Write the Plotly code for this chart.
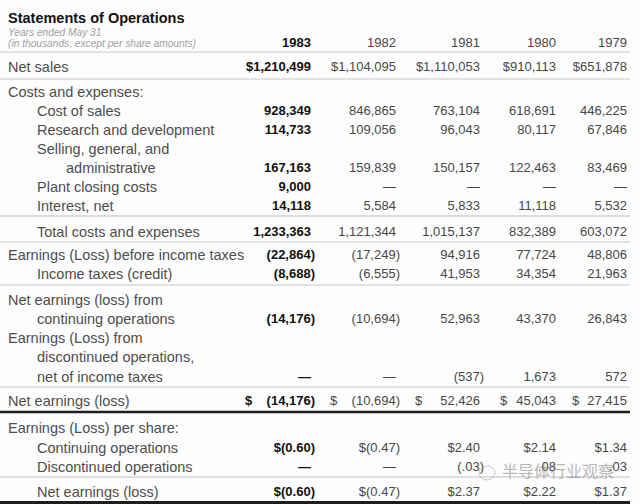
import plotly.graph_objects as go

# ---------------- data ----------------
years = ["1983", "1982", "1981", "1980", "1979"]
net_sales = [1210499, 1104095, 1110053, 910113, 651878]
cost_of_sales = [928349, 846865, 763104, 618691, 446225]
research_dev = [114733, 109056, 96043, 80117, 67846]
selling_admin = [167163, 159839, 150157, 122463, 83469]
plant_closing = [9000, None, None, None, None]
interest_net = [14118, 5584, 5833, 11118, 5532]
total_costs = [1233363, 1121344, 1015137, 832389, 603072]
earnings_before_tax = [-22864, -17249, 94916, 77724, 48806]
income_taxes = [-8688, -6555, 41953, 34354, 21963]
net_cont_ops = [-14176, -10694, 52963, 43370, 26843]
discontinued_ops = [None, None, -537, 1673, 572]
net_earnings = [-14176, -10694, 52426, 45043, 27415]
eps_continuing = [-0.60, -0.47, 2.40, 2.14, 1.34]
eps_discontinued = [None, None, -0.03, 0.08, 0.03]
eps_net = [-0.60, -0.47, 2.37, 2.22, 1.37]

title = "Statements of Operations"
subtitle1 = "Years ended May 31"
subtitle2 = "(in thousands, except per share amounts)"
watermark = "半导体行业观察"

# rows: (label, indent level, values, format)
rows = [
    ("Net sales", 0, net_sales, "dollar"),
    ("Costs and expenses:", 0, None, None),
    ("Cost of sales", 1, cost_of_sales, "int"),
    ("Research and development", 1, research_dev, "int"),
    ("Selling, general, and", 1, None, None),
    ("administrative", 2, selling_admin, "int"),
    ("Plant closing costs", 1, plant_closing, "int"),
    ("Interest, net", 1, interest_net, "int"),
    ("Total costs and expenses", 1, total_costs, "int"),
    ("Earnings (Loss) before income taxes", 0, earnings_before_tax, "int"),
    ("Income taxes (credit)", 1, income_taxes, "int"),
    ("Net earnings (loss) from", 0, None, None),
    ("continuing operations", 1, net_cont_ops, "int"),
    ("Earnings (Loss) from", 0, None, None),
    ("discontinued operations,", 1, None, None),
    ("net of income taxes", 1, discontinued_ops, "int"),
    ("Net earnings (loss)", 0, net_earnings, "int_sep_dollar"),
    ("Earnings (Loss) per share:", 0, None, None),
    ("Continuing operations", 1, eps_continuing, "eps_dollar"),
    ("Discontinued operations", 1, eps_discontinued, "eps"),
    ("Net earnings (loss)", 1, eps_net, "eps_dollar"),
]

# ---------------- layout constants ----------------
W, H = 640, 504
TEXT_DY = 2
row_y = [66, 91, 110, 129, 148, 167, 186, 205, 231, 254, 273, 299, 318,
         337, 356, 376, 400, 427, 447, 466, 491]
indent_x = [8, 37, 66]
col_right = [311, 396, 480, 556, 627]
col_left = [245, 330, 415, 500, 572]
paren_hang = 4
header_y = 42

FONT = "Liberation Sans, Arial, Helvetica, sans-serif"
LABEL_COLOR = "#4d4d4d"
NUM_COLOR = "#474747"
BOLD_COLOR = "#111111"


def fmt(v, kind):
    if v is None:
        return "—", False
    neg = v < 0
    if kind in ("int", "int_sep_dollar"):
        s = f"{abs(v):,}"
    elif kind == "dollar":
        s = f"${abs(v):,}"
    elif kind == "eps_dollar":
        s = f"{abs(v):.2f}"
    else:  # eps without $
        s = f"{abs(v):.2f}".lstrip("0")
    if neg:
        s = f"({s})"
    if kind == "eps_dollar":
        s = "$" + s
    return s, neg


fig = go.Figure()

# labels by indent level
for lvl in range(3):
    xs, ys, ts = [], [], []
    for (lab, ind, vals, kind), y in zip(rows, row_y):
        if ind == lvl:
            xs.append(indent_x[lvl])
            ys.append(y + TEXT_DY)
            ts.append(lab)
    fig.add_trace(go.Scatter(
        x=xs, y=ys, text=ts, mode="text", textposition="middle right",
        textfont=dict(family=FONT, size=14.5, color=LABEL_COLOR),
        hoverinfo="skip", showlegend=False))

# numbers per column
for ci, yr in enumerate(years):
    bold = ci == 0
    xs, ys, ts = [], [], []
    for (lab, ind, vals, kind), y in zip(rows, row_y):
        if vals is None:
            continue
        s, neg = fmt(vals[ci], kind)
        hang = paren_hang if s.endswith(")") else 0
        xs.append(col_right[ci] + hang)
        ys.append(y + TEXT_DY)
        ts.append(f"<b>{s}</b>" if bold else s)
    # header year
    xs.append(col_right[ci])
    ys.append(header_y + TEXT_DY)
    ts.append(f"<b>{yr}</b>" if bold else yr)
    fig.add_trace(go.Scatter(
        x=xs, y=ys, text=ts, mode="text", textposition="middle left",
        textfont=dict(family=FONT, size=13, color=BOLD_COLOR if bold else NUM_COLOR),
        hoverinfo="skip", showlegend=False))

# separate dollar signs for the net earnings row
ne_y = row_y[[r[0] for r in rows].index("Net earnings (loss)")]
fig.add_trace(go.Scatter(
    x=col_left, y=[ne_y + TEXT_DY] * len(years),
    text=["<b>$</b>"] + ["$"] * (len(years) - 1),
    mode="text", textposition="middle right",
    textfont=dict(family=FONT, size=13, color=[BOLD_COLOR] + [NUM_COLOR] * 4),
    hoverinfo="skip", showlegend=False))

# title and subtitles
fig.add_trace(go.Scatter(
    x=[8, 8, 8], y=[17 + TEXT_DY, 31 + TEXT_DY, 42 + TEXT_DY],
    text=[f"<b>{title}</b>", f"<i>{subtitle1}</i>", f"<i>{subtitle2}</i>"],
    mode="text", textposition="middle right",
    textfont=dict(family=FONT, size=[14.5, 10.2, 10.2], color=["#111111", "#a0a0a0", "#a0a0a0"]),
    hoverinfo="skip", showlegend=False))

# watermark
fig.add_trace(go.Scatter(
    x=[502], y=[473], text=[watermark], mode="text", textposition="middle right",
    textfont=dict(family="Noto Sans CJK SC", size=16, color="rgba(120,120,120,0.55)"),
    hoverinfo="skip", showlegend=False))

# rules
lines = [
    (52, 1, "#c8c8c8"), (79, 1, "#c8c8c8"), (216, 1, "#bbbbbb"),
    (242, 1, "#c8c8c8"), (285, 1, "#c8c8c8"), (387, 1, "#c8c8c8"),
    (412, 2.5, "#1e1e1e"), (477, 1, "#c0c0c0"), (502.5, 3, "#1e1e1e"),
]
for y, w, c in lines:
    fig.add_shape(type="line", xref="x", yref="y", x0=0, x1=630, y0=y, y1=y,
                  line=dict(color=c, width=w), layer="below")

fig.add_shape(type="circle", xref="x", yref="y", x0=479, x1=495, y0=466, y1=480,
              line=dict(color="rgba(150,150,150,0.5)", width=1))

fig.update_layout(
    width=W, height=H,
    margin=dict(l=0, r=0, t=0, b=0),
    paper_bgcolor="#fdfdfd", plot_bgcolor="#fdfdfd",
    xaxis=dict(range=[0, W], visible=False, fixedrange=True),
    yaxis=dict(range=[H, 0], visible=False, fixedrange=True),
    showlegend=False,
)

fig.write_html("out.html", config={"displayModeBar": False},
               post_script="document.body.style.margin='0';document.body.style.overflow='hidden';")
